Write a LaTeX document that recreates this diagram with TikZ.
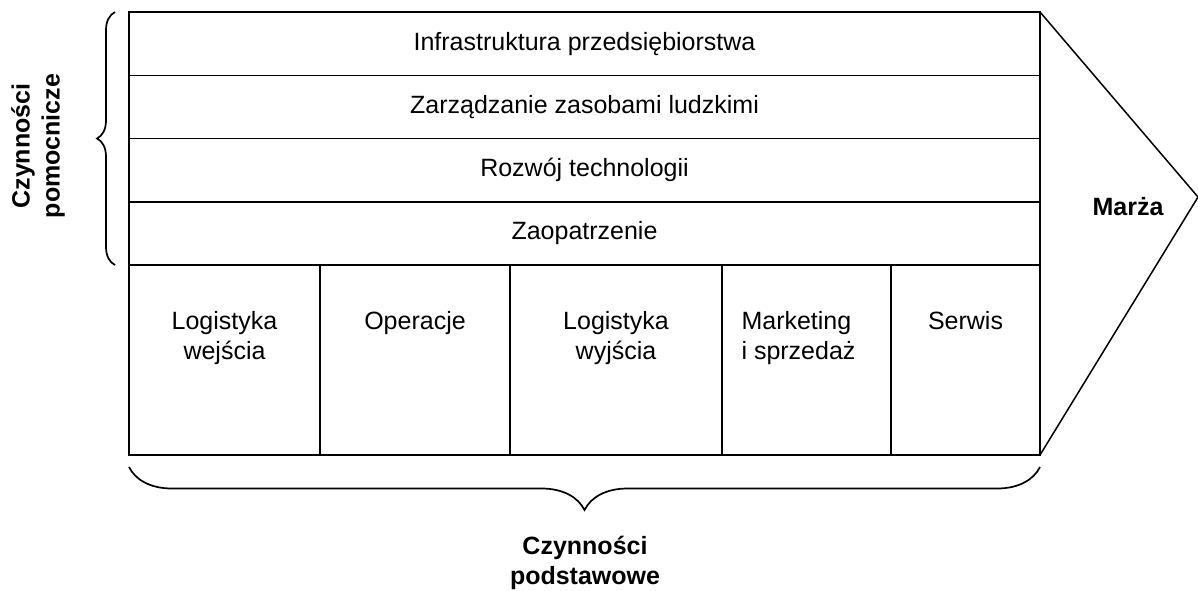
\documentclass[tikz,border=0pt]{standalone}
\usepackage{fontspec}
\setmainfont{Liberation Sans}
\usetikzlibrary{decorations.pathreplacing}
\begin{document}
\begin{tikzpicture}[x=1pt,y=-1pt,
  every node/.style={font=\fontsize{25}{30}\selectfont},
  cell/.style={draw,line width=1.5pt,inner sep=0pt,outer sep=0pt,anchor=north west},
  row/.style={cell,minimum width=911pt,minimum height=63.25pt},
  col/.style={cell,minimum height=190pt},
  coltext/.style={anchor=north,inner sep=0pt,align=center},
  bracket/.style={decorate,line width=1.7pt},
  bold/.style={font=\fontsize{25}{30}\selectfont\bfseries}]
\useasboundingbox (0,0) rectangle (1198,590);

% support activities (rows)
\node[row] (r1) at (129,12) {Infrastruktura przedsiębiorstwa};
\node[row] (r2) at (r1.south west) {Zarządzanie zasobami ludzkimi};
\node[row] (r3) at (r2.south west) {Rozwój technologii};
\node[row] (r4) at (r3.south west) {Zaopatrzenie};

% primary activities (columns)
\node[col,minimum width=191pt] (c1) at (r4.south west) {};
\node[col,minimum width=190pt] (c2) at (c1.north east) {};
\node[col,minimum width=212pt] (c3) at (c2.north east) {};
\node[col,minimum width=169pt] (c4) at (c3.north east) {};
\node[col,minimum width=149pt] (c5) at (c4.north east) {};

\node[coltext] (t1) at ([yshift=-46pt]c1.north) {Logistyka\\wejścia};
\node[coltext] (t2) at ([yshift=-46pt]c2.north) {Operacje};
\node[coltext] (t3) at ([yshift=-46pt]c3.north) {Logistyka\\wyjścia};
\node[coltext,align=left] (t4) at ([xshift=-8pt,yshift=-46pt]c4.north) {Marketing\\i sprzedaż};
\node[coltext] (t5) at ([yshift=-46pt]c5.north) {Serwis};

% margin arrow
\coordinate (tip) at (1198,197);
\draw[line width=1.5pt,line join=miter] (r1.north east) -- (tip) -- (c5.south east);
\node[bold] (marza) at (1128,207) {Marża};

% braces
\draw[bracket,decoration={brace,amplitude=18pt}] (115,265) -- (115,12);
\node[bold,rotate=90,align=center] (pom) at (38,146) {Czynności\\pomocnicze};

\draw[bracket,decoration={brace,amplitude=43pt}] (1040,467) -- (129,467);
\node[bold,align=center] (pod) at (585,563) {Czynności\\podstawowe};
\end{tikzpicture}
\end{document}
